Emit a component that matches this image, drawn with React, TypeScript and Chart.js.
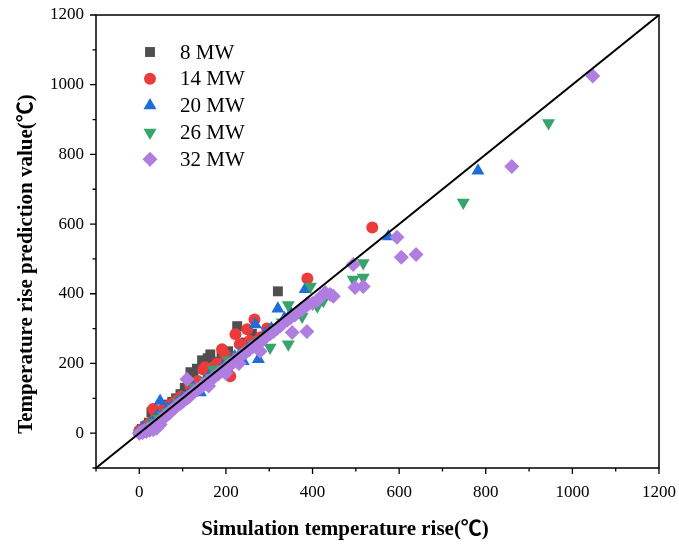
import React, { useEffect, useRef } from 'react';
import { Chart, registerables } from 'chart.js';

Chart.register(...registerables);

const seriesNames = ['8 MW', '14 MW', '20 MW', '26 MW', '32 MW'];
const seriesColors = ['#4f4f4f', '#ec3b3b', '#1f6cdb', '#37a56b', '#b07de0'];

const xTicksRange = { min: -100, max: 1200, step: 100 };
const yTicksRange = { min: -100, max: 1200, step: 100 };

const refLineX = [-100, 1200];
const refLineY = [-100, 1200];

const mw8X = [0, 3, 6, 10, 14, 18, 22, 28, 33, 40, 46, 52, 60, 68, 76, 85, 95, 105, 118, 125, 133, 145, 150, 158, 164, 175, 190, 205, 226, 245, 260, 320];
const mw8Y = [4, 8, 12, 10, 20, 22, 30, 60, 40, 50, 62, 58, 70, 82, 90, 100, 112, 130, 175, 160, 185, 209, 200, 215, 226, 205, 220, 235, 307, 260, 285, 407];

const mw14X = [0, 4, 8, 12, 18, 25, 32, 38, 45, 55, 62, 70, 80, 88, 97, 106, 118, 125, 135, 148, 152, 160, 172, 180, 191, 198, 205, 210, 222, 232, 249, 255, 266, 280, 295, 310, 388, 538];
const mw14Y = [5, 10, 6, 18, 22, 30, 69, 45, 50, 68, 58, 80, 88, 95, 105, 97, 135, 120, 150, 183, 189, 170, 190, 200, 241, 225, 169, 163, 284, 255, 298, 265, 326, 275, 300, 295, 444, 590];

const mw20X = [0, 5, 10, 18, 25, 35, 42, 48, 55, 65, 75, 88, 100, 112, 125, 141, 150, 162, 175, 185, 198, 210, 220, 232, 240, 252, 262, 268, 275, 290, 305, 320, 335, 350, 383, 575, 782];
const mw20Y = [3, 8, 15, 12, 28, 38, 50, 92, 52, 70, 75, 90, 100, 108, 130, 117, 148, 165, 175, 178, 200, 205, 220, 228, 206, 245, 250, 312, 212, 285, 300, 357, 330, 345, 413, 564, 753];

const mw26X = [0, 6, 12, 20, 28, 36, 45, 55, 65, 78, 90, 102, 115, 128, 140, 152, 165, 171, 180, 192, 205, 215, 228, 240, 255, 265, 280, 292, 302, 315, 330, 344, 344, 358, 368, 376, 395, 411, 425, 494, 517, 517, 748, 945];
const mw26Y = [0, 4, 10, 15, 25, 30, 42, 50, 60, 70, 88, 95, 108, 132, 130, 150, 158, 183, 170, 185, 210, 205, 220, 232, 240, 255, 268, 275, 246, 300, 318, 255, 368, 340, 348, 335, 421, 364, 380, 441, 488, 447, 662, 890];

const mw32X = [0, 4, 8, 12, 16, 20, 24, 28, 32, 36, 40, 44, 48, 52, 58, 64, 70, 76, 82, 88, 95, 102, 110, 110, 118, 126, 134, 142, 150, 158, 160, 166, 174, 182, 190, 198, 200, 206, 214, 222, 230, 230, 238, 246, 254, 262, 270, 279, 286, 294, 302, 310, 318, 326, 334, 342, 350, 353, 360, 368, 376, 387, 390, 400, 410, 420, 429, 441, 448, 494, 498, 517, 595, 605, 639, 860, 1047];
const mw32Y = [0, 3, 2, 8, 5, 12, 8, 15, 10, 22, 14, 30, 25, 40, 45, 55, 58, 68, 72, 80, 85, 92, 100, 155, 108, 118, 125, 132, 140, 148, 135, 155, 162, 170, 178, 185, 172, 195, 200, 210, 218, 200, 225, 232, 240, 248, 255, 235, 268, 278, 285, 292, 300, 308, 318, 325, 332, 289, 340, 350, 355, 292, 370, 372, 380, 392, 404, 398, 393, 484, 418, 421, 562, 505, 513, 765, 1025];

const seriesX = [mw8X, mw14X, mw20X, mw26X, mw32X];
const seriesY = [mw8Y, mw14Y, mw20Y, mw26Y, mw32Y];
const pointStyles = ['rect', 'circle', 'triangle', 'triangle', 'rectRot'];
const pointRotations = [0, 0, 0, 180, 0];
const pointRadii = [7, 6, 7.5, 7.5, 7.5];

const xTitle = 'Simulation temperature rise(℃)';
const yTitle = 'Temperature rise prediction value(℃)';

const SERIF = "'Liberation Serif', 'Times New Roman', 'Noto Sans CJK SC', serif";

function drawMarker(ctx: CanvasRenderingContext2D, style: string, rotation: number, x: number, y: number, r: number, color: string) {
  ctx.save();
  ctx.fillStyle = color;
  ctx.beginPath();
  if (style === 'rect') {
    const s = r * Math.SQRT1_2;
    ctx.rect(x - s, y - s, 2 * s, 2 * s);
  } else if (style === 'circle') {
    ctx.arc(x, y, r, 0, Math.PI * 2);
  } else if (style === 'triangle') {
    let rad = (rotation * Math.PI) / 180;
    ctx.moveTo(x + Math.sin(rad) * r, y - Math.cos(rad) * r);
    rad += (2 * Math.PI) / 3;
    ctx.lineTo(x + Math.sin(rad) * r, y - Math.cos(rad) * r);
    rad += (2 * Math.PI) / 3;
    ctx.lineTo(x + Math.sin(rad) * r, y - Math.cos(rad) * r);
    ctx.closePath();
  } else {
    ctx.moveTo(x, y - r);
    ctx.lineTo(x + r, y);
    ctx.lineTo(x, y + r);
    ctx.lineTo(x - r, y);
    ctx.closePath();
  }
  ctx.fill();
  ctx.restore();
}

const framePlugin = {
  id: 'frameAndTicks',
  afterDraw(chart: any) {
    const { ctx, chartArea } = chart;
    const xs = chart.scales.x;
    const ys = chart.scales.y;
    ctx.save();
    ctx.strokeStyle = '#000';
    ctx.lineWidth = 1.5;
    ctx.strokeRect(chartArea.left, chartArea.top, chartArea.right - chartArea.left, chartArea.bottom - chartArea.top);
    ctx.lineWidth = 1.3;
    ctx.beginPath();
    xs.ticks.forEach((t: any) => {
      const px = xs.getPixelForValue(t.value);
      const len = t.value % 200 === 0 ? 6 : 3.5;
      ctx.moveTo(px, chartArea.bottom);
      ctx.lineTo(px, chartArea.bottom + len);
    });
    ys.ticks.forEach((t: any) => {
      const py = ys.getPixelForValue(t.value);
      const len = t.value % 200 === 0 ? 6 : 3.5;
      ctx.moveTo(chartArea.left, py);
      ctx.lineTo(chartArea.left - len, py);
    });
    ctx.stroke();

    // legend
    const lx = chartArea.left + 54;
    const tx = chartArea.left + 84;
    const ly0 = chartArea.top + 37;
    const dy = 26.8;
    ctx.font = `21px ${SERIF}`;
    ctx.textBaseline = 'middle';
    ctx.textAlign = 'left';
    for (let i = 0; i < seriesNames.length; i++) {
      const y = ly0 + i * dy;
      drawMarker(ctx, pointStyles[i], pointRotations[i], lx, y, pointRadii[i], seriesColors[i]);
      ctx.fillStyle = '#000';
      ctx.fillText(seriesNames[i], tx, y + 1);
    }

    // axis titles
    ctx.fillStyle = '#000';
    ctx.font = `bold 21px ${SERIF}`;
    ctx.textAlign = 'center';
    ctx.textBaseline = 'middle';
    ctx.fillText(xTitle, chartArea.left + 249, chartArea.bottom + 62);
    ctx.save();
    ctx.translate(27, chartArea.top + 249);
    ctx.rotate(-Math.PI / 2);
    ctx.fillText(yTitle, 0, 0);
    ctx.restore();
    ctx.restore();
  },
};

function zeroPadding(s: any) {
  s.paddingLeft = 0;
  s.paddingRight = 0;
  s.paddingTop = 0;
  s.paddingBottom = 0;
}

export default function App() {
  const canvasRef = useRef<HTMLCanvasElement | null>(null);

  useEffect(() => {
    if (!canvasRef.current) return;
    const scatterSets = seriesNames.map((name, i) => ({
      type: 'scatter' as const,
      label: name,
      data: seriesX[i].map((x, j) => ({ x, y: seriesY[i][j] })),
      backgroundColor: seriesColors[i],
      borderColor: seriesColors[i],
      pointStyle: pointStyles[i],
      pointRotation: pointRotations[i],
      pointRadius: pointRadii[i],
      pointBorderWidth: 0,
      order: 5 - i,
    }));
    const lineSet = {
      type: 'line' as const,
      label: 'y = x',
      data: refLineX.map((x, j) => ({ x, y: refLineY[j] })),
      borderColor: '#000',
      borderWidth: 2,
      pointRadius: 0,
      fill: false,
      order: 0,
    };
    const chart = new Chart(canvasRef.current, {
      type: 'scatter',
      data: { datasets: [lineSet, ...scatterSets] as any },
      options: {
        animation: false,
        responsive: true,
        maintainAspectRatio: false,
        layout: { padding: { top: 15, right: 20, left: 0, bottom: 0 } },
        plugins: { legend: { display: false }, tooltip: { enabled: false } },
        scales: {
          x: {
            type: 'linear',
            min: xTicksRange.min,
            max: xTicksRange.max,
            grid: { display: false, drawTicks: false },
            border: { display: false },
            ticks: {
              stepSize: xTicksRange.step,
              autoSkip: false,
              maxRotation: 0,
              padding: 14,
              color: '#000',
              font: { family: SERIF, size: 17 },
              callback: (v: any) => (v >= 0 && v % 200 === 0 ? String(v) : ''),
            },
            title: { display: false },
            afterFit: (s: any) => { s.height = 82; zeroPadding(s); },
          },
          y: {
            type: 'linear',
            min: yTicksRange.min,
            max: yTicksRange.max,
            grid: { display: false, drawTicks: false },
            border: { display: false },
            ticks: {
              stepSize: yTicksRange.step,
              autoSkip: false,
              padding: 12,
              color: '#000',
              font: { family: SERIF, size: 17 },
              callback: (v: any) => (v >= 0 && v % 200 === 0 ? String(v) : ''),
            },
            title: { display: false },
            afterFit: (s: any) => { s.width = 96; zeroPadding(s); },
          },
        },
      },
      plugins: [framePlugin],
    });
    return () => chart.destroy();
  }, []);

  return (
    <div style={{ position: 'absolute', left: 0, top: 0, width: 679, height: 550 }}>
      <canvas ref={canvasRef} />
    </div>
  );
}
